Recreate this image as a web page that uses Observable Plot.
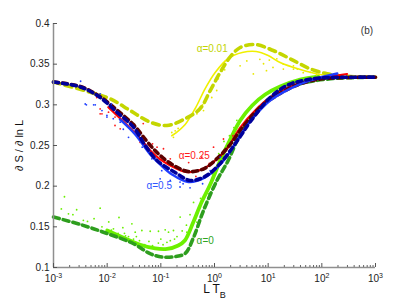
<!DOCTYPE html>
<html><head><meta charset="utf-8">
<script src="https://cdn.jsdelivr.net/npm/d3@7"></script>
<script src="https://cdn.jsdelivr.net/npm/@observablehq/plot@0.6"></script>
<style>body{margin:0;background:#fff;}</style>
</head><body><div id="chart"></div>
<script>
// ---- axis ticks ----
const xTicks = [1e-3, 1e-2, 1e-1, 1, 1e1, 1e2, 1e3];
const yTicks = [0.1, 0.15, 0.2, 0.25, 0.3, 0.35, 0.4];
const xMinorTicks = [];
for (const dec of [1e-3, 1e-2, 1e-1, 1, 1e1, 1e2]) for (const m of [2,3,4,5,6,7,8,9]) xMinorTicks.push(dec * m);

// ---- theory curves (dashed) ----
const dash0 = [[0.001,0.162],[0.00316,0.1529],[0.01,0.1418],[0.0305,0.1295],[0.0631,0.117],[0.106,0.1129],[0.185,0.1135],[0.284,0.1172],[0.407,0.137],[0.624,0.170],[1.11,0.207],[1.8,0.2315],[2.75,0.2586],[4.62,0.283],[7.74,0.300],[16.7,0.3164],[39.8,0.326],[145,0.332],[1000,0.334]];
const dash001 = [[0.001,0.328],[0.00484,0.3155],[0.01138,0.3074],[0.0269,0.293],[0.0634,0.2787],[0.1297,0.2746],[0.2845,0.283],[0.541,0.2955],[0.832,0.3176],[1.28,0.340],[1.96,0.3589],[3.01,0.3705],[5.73,0.3742],[12.4,0.3668],[25.8,0.3566],[60.4,0.3443],[125,0.3382],[270,0.3352],[1000,0.334]];
const dash025 = [[0.001,0.328],[0.00316,0.3225],[0.0074,0.310],[0.0155,0.293],[0.0305,0.276],[0.0537,0.256],[0.0891,0.240],[0.162,0.2267],[0.324,0.218],[0.646,0.2217],[1.17,0.2353],[1.96,0.2512],[3.01,0.2684],[7.08,0.2967],[16.7,0.314],[40,0.326],[100,0.332],[1000,0.334]];
const dash05 = [[0.001,0.328],[0.00316,0.322],[0.0074,0.309],[0.0151,0.291],[0.0309,0.2725],[0.0513,0.250],[0.0851,0.2316],[0.185,0.2168],[0.352,0.207],[0.67,0.212],[1.28,0.228],[3.01,0.261],[4.6,0.279],[10.9,0.309],[22.6,0.324],[45,0.330],[93,0.333],[1000,0.334]];

// ---- simulation curves (solid) ----
const solid0 = [[0.01,0.1455],[0.0216,0.1357],[0.0413,0.128],[0.0785,0.1234],[0.131,0.1228],[0.211,0.127],[0.28,0.1332],[0.40,0.1553],[0.56,0.1787],[0.832,0.202],[1.28,0.2316],[1.96,0.2574],[3.01,0.2807],[5.04,0.2992],[8.79,0.3127],[16.7,0.3225],[39.5,0.3311],[85.5,0.3348]];
const solid001 = [[0.16,0.262],[0.185,0.2648],[0.284,0.2758],[0.437,0.2955],[0.67,0.320],[1.03,0.3398],[1.8,0.357],[3.28,0.3643],[5.98,0.3656],[10,0.3607],[16.7,0.352],[39.8,0.3434],[93,0.3373],[219,0.3348]];
const solid025 = [[0.0105,0.297],[0.0227,0.276],[0.0413,0.2586],[0.0634,0.2439],[0.0977,0.2328],[0.150,0.2254],[0.309,0.2172],[0.617,0.2213],[1.12,0.2336],[1.72,0.2463],[3.01,0.272],[5.73,0.293],[10.9,0.309],[25.8,0.3225],[60.4,0.330],[141,0.3348],[295,0.3379]];
const solid05 = [[0.0173,0.282],[0.0333,0.2635],[0.0634,0.239],[0.0977,0.2266],[0.162,0.2143],[0.324,0.2051],[0.67,0.2107],[1.28,0.2266],[2.14,0.2463],[3.28,0.266],[5.73,0.2869],[10.9,0.3053],[25.8,0.320],[60.4,0.330],[194,0.3385]];

// ---- scattered samples (dots) ----
const dots0 = [[0.0016,0.187],[0.0014,0.172],[0.0019,0.166],[0.0023,0.165],[0.0027,0.171],[0.0036,0.158],[0.0043,0.1566],[0.0057,0.160],[0.0074,0.173],[0.0107,0.156],[0.0131,0.1476],[0.0166,0.1615],[0.0196,0.149],[0.021,0.142],[0.0289,0.1537],[0.025,0.138],[0.031,0.135],[0.0333,0.1434],[0.0443,0.1455],[0.0634,0.1446],[0.0904,0.1446],[0.1205,0.1463],[0.139,0.1434],[0.172,0.1455],[0.229,0.162],[0.306,0.1434],[0.407,0.180],[0.47,0.1557],[0.624,0.174],[0.773,0.1906],[2.61,0.281],[2.3,0.272],[1.9,0.262],[0.05,0.128],[0.07,0.127],[0.09,0.130],[0.11,0.128],[0.13,0.131],[0.15,0.133],[0.18,0.135],[0.2,0.138],[0.25,0.145],[0.3,0.152],[0.06,0.132],[0.1,0.135],[0.04,0.133],[0.035,0.138],[0.008,0.150],[0.012,0.146],[0.016,0.142],[0.022,0.139],[0.35,0.165],[0.55,0.185],[0.9,0.215],[1.2,0.24],[1.5,0.255]];
const dots001 = [[0.16,0.266],[0.172,0.260],[0.185,0.268],[0.21,0.271],[0.47,0.289],[0.54,0.297],[0.6,0.300],[0.624,0.293],[0.89,0.309],[1.1,0.3176],[1.18,0.332],[1.55,0.343],[3.0,0.348],[4.0,0.354],[5.3,0.338],[8.2,0.3505],[9.3,0.342],[12.3,0.346],[14.5,0.3566],[19.2,0.350],[19.2,0.344],[29.6,0.344],[29.6,0.348],[35,0.344],[61,0.340],[45,0.3395],[80,0.337],[7,0.356],[10.5,0.355]];
const dots025 = [[0.0064,0.309],[0.0074,0.289],[0.0074,0.295],[0.008,0.289],[0.0106,0.291],[0.014,0.285],[0.014,0.2746],[0.0175,0.2705],[0.027,0.2767],[0.031,0.2664],[0.041,0.254],[0.055,0.246],[0.047,0.277],[0.085,0.248],[0.112,0.246],[0.15,0.2336],[0.33,0.229],[0.58,0.2356],[0.96,0.248],[1.47,0.258],[0.2,0.222],[0.45,0.212],[0.8,0.228],[2.2,0.262],[0.07,0.252]];
const dots05 = [[0.0032,0.329],[0.0039,0.301],[0.0041,0.300],[0.0056,0.300],[0.006,0.300],[0.0074,0.3135],[0.008,0.293],[0.0099,0.287],[0.0099,0.285],[0.012,0.301],[0.013,0.283],[0.0175,0.2787],[0.025,0.260],[0.038,0.262],[0.068,0.2336],[0.097,0.209],[0.104,0.219],[0.15,0.207],[0.228,0.205],[0.228,0.199],[0.26,0.203],[0.47,0.207],[0.83,0.219],[1.28,0.2356],[0.35,0.198],[0.6,0.203],[0.02,0.27],[0.045,0.248]];

// ---- annotations ----
const labels = [
  {text: "α=0.01", x: 0.906, y: 0.369, color: "#c2d400"},
  {text: "α=0.25", x: 0.419, y: 0.2377, color: "#ff1a1a"},
  {text: "α=0.5",  x: 0.0933, y: 0.2008, color: "#2f55ff"},
  {text: "α=0",    x: 0.671, y: 0.1332, color: "#2fa51f"},
  {text: "(b)",    x: 692, y: 0.391, color: "#333333"}
];
const xLabel = "L T_B";
const yLabel = "∂ S / ∂ ln L";

const axisGray = "#8f8f8f";
const px = d => d[0], py = d => d[1];
const dashLine = (data, color, dash) => Plot.line(data, {x: px, y: py, stroke: color, strokeWidth: 3.6, strokeDasharray: dash, curve: "catmull-rom"});
const solidLine = (data, color, w) => Plot.line(data, {x: px, y: py, stroke: color, strokeWidth: w, curve: "catmull-rom"});
const dotMark = (data, color) => Plot.dot(data, {x: px, y: py, r: 0.9, fill: color, stroke: null});

const chart = Plot.plot({
  width: 415, height: 302,
  marginLeft: 53, marginRight: 40, marginTop: 23, marginBottom: 35,
  style: {fontFamily: "'Liberation Sans', Arial, sans-serif", fontSize: "10px", background: "#fff", color: "#222"},
  x: {type: "log", domain: [1e-3, 1e3]},
  y: {domain: [0.1, 0.4]},
  marks: [
    dotMark(dots0, "#6af000"),
    solidLine(solid0, "#6cf000", 3.8),
    dashLine(dash0, "#2e9e1e", "6,4"),
    dotMark(dots001, "#e8e800"),
    solidLine(solid001, "#f0f000", 1.6),
    dashLine(dash001, "#c4d600", "7,5"),
    dotMark(dots025, "#ff1a1a"),
    solidLine(solid025, "#ff0000", 2.2),
    dashLine(dash025, "#5c0000", "5,4"),
    dotMark(dots05, "#2040ff"),
    solidLine(solid05, "#1f3dff", 2.4),
    dashLine(dash05, "#00009a", "5,4"),
    // axis lines
    Plot.ruleY([0.1], {stroke: axisGray, strokeWidth: 1.5}),
    Plot.ruleX([1e-3], {stroke: axisGray, strokeWidth: 1.5}),
    // inward ticks
    Plot.ruleX(xTicks, {x: d => d, y1: 0.1, y2: 0.1, insetTop: -4, stroke: "#555"}),
    Plot.ruleX(xMinorTicks, {x: d => d, y1: 0.1, y2: 0.1, insetTop: -2, stroke: "#666"}),
    Plot.ruleY(yTicks, {y: d => d, x1: 1e-3, x2: 1e-3, insetRight: -4, stroke: "#555"}),
    Plot.axisX({ticks: xTicks, tickSize: 0, tickPadding: 7, label: null, fontSize: 10,
      tickFormat: d => "10|" + Math.round(Math.log10(d))}),
    Plot.axisY({ticks: yTicks, tickSize: 0, tickPadding: 4, label: null, fontSize: 10,
      tickFormat: d => String(+d.toFixed(2))}),
    Plot.text(labels, {x: "x", y: "y", text: "text", fill: "color", fontSize: 10, textAnchor: "middle", lineAnchor: "middle"}),
    Plot.text([xLabel], {frameAnchor: "bottom", dy: 22, text: d => d, fontSize: 12, fill: "#111", textAnchor: "middle", lineAnchor: "middle"}),
    Plot.text([yLabel], {frameAnchor: "left", dx: -34, rotate: -90, text: d => d, fontSize: 11, fill: "#111", textAnchor: "middle", lineAnchor: "middle"})
  ]
});
document.getElementById("chart").appendChild(chart);

const SVGNS = "http://www.w3.org/2000/svg";
chart.querySelectorAll("text").forEach(t => {
  const s = t.textContent;
  if (s.includes("|")) {            // 10^n tick labels
    const [base, exp] = s.split("|");
    t.textContent = base;
    const ts = document.createElementNS(SVGNS, "tspan");
    ts.setAttribute("dy", "-4");
    ts.setAttribute("font-size", "7");
    ts.textContent = exp;
    t.appendChild(ts);
  } else if (s === xLabel) {        // subscript B
    const [base, sub] = s.split("_");
    t.textContent = base;
    const ts = document.createElementNS(SVGNS, "tspan");
    ts.setAttribute("dy", "5");
    ts.setAttribute("font-size", "9");
    ts.textContent = sub;
    t.appendChild(ts);
  }
});
</script>
</body></html>
